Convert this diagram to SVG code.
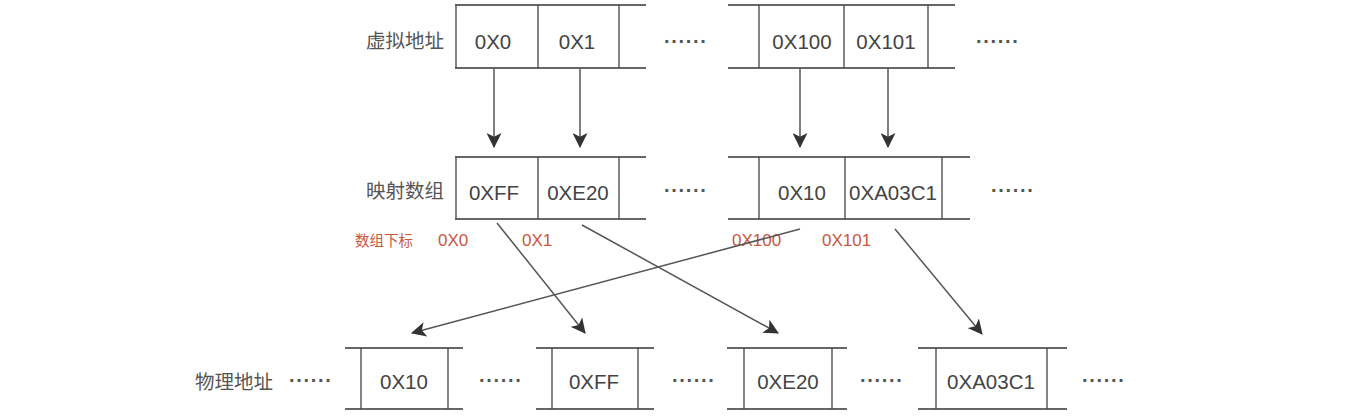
<svg xmlns="http://www.w3.org/2000/svg" width="1367" height="419" viewBox="0 0 1367 419">
<style>
.ln{stroke:#333;stroke-width:1.6;fill:none}
.vl{stroke:#444;stroke-width:1.3;fill:none}
.t{font-family:"Liberation Sans",Arial,sans-serif;font-size:20.5px;fill:#444;text-anchor:middle}
.cn{font-family:"Noto Sans CJK SC",sans-serif;font-size:19.5px;fill:#555}
.dots{font-family:"Liberation Sans",Arial,sans-serif;font-size:20px;font-weight:bold;fill:#555;letter-spacing:0.6px}
.red{font-family:"Liberation Sans","Noto Sans CJK SC",sans-serif;font-size:17px;fill:#c8573f}
.redcn{font-family:"Noto Sans CJK SC",sans-serif;font-size:14.5px;fill:#c8573f}
.arr{stroke:#555;stroke-width:1.5;fill:none;marker-end:url(#ah)}
</style>
<defs>
<marker id="ah" viewBox="0 0 14 14" refX="13" refY="7" markerWidth="15" markerHeight="15" markerUnits="userSpaceOnUse" orient="auto">
<path d="M0,0 L14,7 L0,14 L3.5,7 Z" fill="#333"/>
</marker>
</defs>
<rect width="1367" height="419" fill="#fff"/>

<g id="virtual-left">
<line class="ln" x1="455" y1="5" x2="646" y2="5"/>
<line class="ln" x1="455" y1="68" x2="646" y2="68"/>
<line class="vl" x1="456" y1="5" x2="456" y2="68"/>
<line class="vl" x1="538" y1="5" x2="538" y2="68"/>
<line class="vl" x1="619" y1="5" x2="619" y2="68"/>
<text class="t" x="493" y="49">0X0</text>
<text class="t" x="577" y="49">0X1</text>
</g>
<g id="virtual-right">
<line class="ln" x1="728" y1="5" x2="955" y2="5"/>
<line class="ln" x1="728" y1="68" x2="955" y2="68"/>
<line class="vl" x1="759" y1="5" x2="759" y2="68"/>
<line class="vl" x1="844" y1="5" x2="844" y2="68"/>
<line class="vl" x1="928" y1="5" x2="928" y2="68"/>
<text class="t" x="802" y="49">0X100</text>
<text class="t" x="886" y="49">0X101</text>
</g>
<g id="virtual-label">
<text class="cn" x="366" y="48">虚拟地址</text>
<text class="dots" x="664" y="48">······</text>
<text class="dots" x="976" y="48">······</text>
</g>

<g id="map-left">
<line class="ln" x1="455" y1="157" x2="646" y2="157"/>
<line class="ln" x1="455" y1="219" x2="646" y2="219"/>
<line class="vl" x1="456" y1="157" x2="456" y2="219"/>
<line class="vl" x1="538" y1="157" x2="538" y2="219"/>
<line class="vl" x1="619" y1="157" x2="619" y2="219"/>
<text class="t" x="494" y="200">0XFF</text>
<text class="t" x="578" y="200">0XE20</text>
</g>
<g id="map-right">
<line class="ln" x1="728" y1="157" x2="970" y2="157"/>
<line class="ln" x1="728" y1="219" x2="970" y2="219"/>
<line class="vl" x1="759" y1="157" x2="759" y2="219"/>
<line class="vl" x1="845" y1="157" x2="845" y2="219"/>
<line class="vl" x1="942" y1="157" x2="942" y2="219"/>
<text class="t" x="802" y="200">0X10</text>
<text class="t" x="893" y="200">0XA03C1</text>
</g>
<g id="map-label">
<text class="cn" x="366" y="198">映射数组</text>
<text class="dots" x="664" y="197">······</text>
<text class="dots" x="991" y="197">······</text>
</g>

<g id="index-labels">
<text class="redcn" x="355" y="246">数组下标</text>
<text class="red" x="438" y="246">0X0</text>
<text class="red" x="522" y="246">0X1</text>
<text class="red" x="732" y="246">0X100</text>
<text class="red" x="822" y="246">0X101</text>
</g>

<g id="phys-label">
<text class="cn" x="195" y="389">物理地址</text>
<text class="dots" x="289" y="387">······</text>
<text class="dots" x="479" y="387">······</text>
<text class="dots" x="672" y="387">······</text>
<text class="dots" x="860" y="387">······</text>
<text class="dots" x="1082" y="387">······</text>
</g>
<g id="phys-0x10">
<line class="ln" x1="345" y1="348" x2="463" y2="348"/>
<line class="ln" x1="345" y1="409" x2="463" y2="409"/>
<line class="vl" x1="361" y1="348" x2="361" y2="409"/>
<line class="vl" x1="448" y1="348" x2="448" y2="409"/>
<text class="t" x="404" y="389">0X10</text>
</g>
<g id="phys-0xff">
<line class="ln" x1="536" y1="348" x2="654" y2="348"/>
<line class="ln" x1="536" y1="409" x2="654" y2="409"/>
<line class="vl" x1="552" y1="348" x2="552" y2="409"/>
<line class="vl" x1="638" y1="348" x2="638" y2="409"/>
<text class="t" x="594" y="389">0XFF</text>
</g>
<g id="phys-0xe20">
<line class="ln" x1="727" y1="348" x2="847" y2="348"/>
<line class="ln" x1="727" y1="409" x2="847" y2="409"/>
<line class="vl" x1="744" y1="348" x2="744" y2="409"/>
<line class="vl" x1="832" y1="348" x2="832" y2="409"/>
<text class="t" x="788" y="389">0XE20</text>
</g>
<g id="phys-0xa03c1">
<line class="ln" x1="918" y1="348" x2="1067" y2="348"/>
<line class="ln" x1="918" y1="409" x2="1067" y2="409"/>
<line class="vl" x1="936" y1="348" x2="936" y2="409"/>
<line class="vl" x1="1047" y1="348" x2="1047" y2="409"/>
<text class="t" x="991" y="389">0XA03C1</text>
</g>

<g id="connectors">
<line class="arr" x1="494" y1="69" x2="494" y2="147"/>
<line class="arr" x1="580" y1="69" x2="580" y2="147"/>
<line class="arr" x1="800" y1="69" x2="800" y2="147"/>
<line class="arr" x1="888" y1="69" x2="888" y2="147"/>
<line class="arr" x1="497" y1="223" x2="585" y2="333"/>
<line class="arr" x1="582" y1="225" x2="778" y2="333"/>
<line class="arr" x1="800" y1="229" x2="412" y2="333"/>
<line class="arr" x1="895" y1="229" x2="982" y2="334"/>
</g>
</svg>
